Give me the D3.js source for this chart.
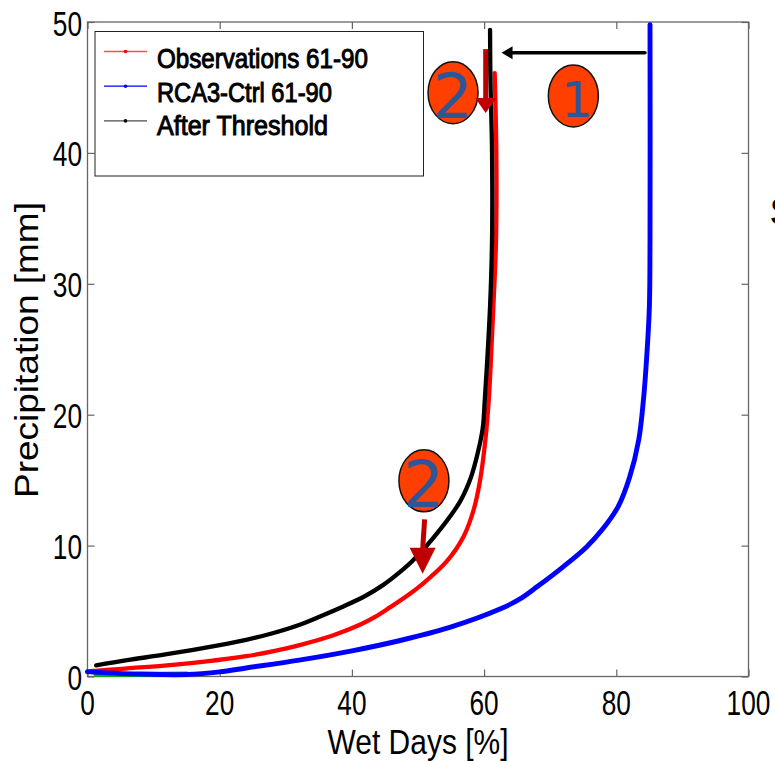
<!DOCTYPE html>
<html><head><meta charset="utf-8">
<style>html,body{margin:0;padding:0;background:#fff;overflow:hidden}svg{display:block}text{font-family:"Liberation Sans",Arial,sans-serif}</style>
<script src="https://cdn.jsdelivr.net/npm/d3@7"></script>
</head><body><svg id="c" width="775" height="761"></svg>
<script>
const xTicks=[0,20,40,60,80,100];
const yTicks=[0,10,20,30,40,50];
const xTitle="Wet Days [%]";
const yTitle="Precipitation [mm]";
const seriesNames=["Observations 61-90","RCA3-Ctrl 61-90","After Threshold"];
const seriesColors=["#ff0000","#0000ff","#000000"];
const obs=[[0,0.35],[0.8,0.42],[6,0.62],[12,0.85],[18,1.15],[24,1.55],[28,1.92],[32.1,2.4],[37.2,3.15],[41.2,3.95],[43.5,4.55],[45.8,5.3],[48.3,6.15],[50.8,7.12],[54.3,8.77],[56.9,10.7],[58.4,12.7],[59.4,15],[60.2,18.1],[60.7,21.1],[61.05,24.4],[61.4,28.25],[61.8,33.3],[61.85,40],[61.6,46.1]];
const ctrl=[[0,0.37],[3,0.28],[7,0.2],[15,0.15],[20,0.35],[24,0.65],[32,1.25],[40.2,1.98],[47.3,2.75],[54.8,3.75],[62.4,5.15],[65.5,5.95],[68,6.85],[72,8.4],[75.5,9.9],[78,11.3],[80.3,13],[82,15.2],[83.4,18.1],[84.1,21.1],[84.6,24.4],[85,28.2],[85.1,33.3],[85.1,49.8]];
const after=[[1.3,0.85],[6,1.25],[12,1.7],[20,2.4],[24,2.8],[28,3.3],[32.1,3.95],[35,4.55],[38.7,5.35],[42,6.15],[44.75,7],[47.2,7.95],[49.3,8.9],[53.3,11.2],[56.4,13.4],[58,15.2],[59.1,17.2],[59.8,19],[60.1,21.1],[60.5,24.4],[60.9,28.25],[61.2,33.3],[61.2,40],[60.95,46],[60.9,49.4]];
const trace=[[1.3,0.15],[8,0.15],[15,0.2]];
// annotations, in data units
const badges=[{t:"2",x:55.3,y:44.6,dx:0,dy:25,fs:63},{t:"1",x:73.5,y:44.35,dx:4,dy:21,fs:50},{t:"2",x:50.9,y:14.95,dx:0,dy:26,fs:64}];
const moveArrow={x1:84.34,x2:62.64,y:47.65};
const dropArrows=[{x1:60.24,y1:47.93,x2:60.24,y2:43.05,hw:10.5,hl:15},{x1:51.0,y1:12,x2:50.7,y2:7.85,hw:13,hl:26}];

const L=87.5,R=748.5,T=22,B=676.5;
const x=d3.scaleLinear().domain([0,100]).range([L,R]);
const y=d3.scaleLinear().domain([0,50]).range([B,T]);
const svg=d3.select("#c");
const AX="#666";
function tickAxis(axis,tx,ty){
  const g=svg.append("g").attr("transform",`translate(${tx},${ty})`).call(axis.tickSizeOuter(0).tickFormat(""));
  g.select(".domain").remove();
  g.selectAll("line").attr("stroke",AX).attr("stroke-width",1.2);
}
tickAxis(d3.axisBottom(x).tickValues(xTicks).tickSizeInner(-7),0,B);
tickAxis(d3.axisTop(x).tickValues(xTicks).tickSizeInner(-7),0,T);
tickAxis(d3.axisLeft(y).tickValues(yTicks).tickSizeInner(-7),L,0);
tickAxis(d3.axisRight(y).tickValues(yTicks).tickSizeInner(-7),R,0);
svg.append("rect").attr("x",L).attr("y",T).attr("width",R-L).attr("height",B-T).attr("fill","none").attr("stroke",AX).attr("stroke-width",1.3);

// text condensed to a target width through a transform, like the stretched original
function label(tx,ty,s,fs,len,anchor,rot){
  const t=svg.append("text").attr("font-size",fs).attr("fill","#000").attr("text-anchor",anchor||"start").text(s);
  const sx=len/t.node().getComputedTextLength();
  t.attr("transform",`translate(${tx},${ty})${rot?` rotate(${rot})`:""} scale(${sx},1)`);
  return t;
}
const w=d=>String(d).length*14.6;
xTicks.forEach(d=>label(x(d),B+38.5,String(d),36,w(d),"middle"));
yTicks.forEach(d=>label(L-5.5,y(d)+13.5,String(d),36,w(d),"end"));
label(418,754,xTitle,35,181,"middle");
label(38,350,yTitle,32.5,296,"middle",-90);

const line=d3.line().x(d=>x(d[0])).y(d=>y(d[1])).curve(d3.curveCatmullRom.alpha(0.5));
const plot=svg.append("g").attr("fill","none").attr("stroke-linecap","round").attr("stroke-linejoin","round");
plot.append("path").attr("d",line(trace)).attr("stroke","#00b000").attr("stroke-width",5);
plot.append("path").attr("d",line(obs)).attr("stroke",seriesColors[0]).attr("stroke-width",4.3);
plot.append("path").attr("d",line(after)).attr("stroke",seriesColors[2]).attr("stroke-width",4.3);
plot.append("path").attr("d",line(ctrl)).attr("stroke",seriesColors[1]).attr("stroke-width",4.9);

// legend
svg.append("rect").attr("x",95).attr("y",31.5).attr("width",328.5).attr("height",144.5).attr("fill","#fff").attr("stroke","#222").attr("stroke-width",1);
const lens=[211,175,171];
seriesNames.forEach((n,i)=>{
  const ly=51.5+i*34.7;
  svg.append("line").attr("x1",104).attr("x2",147).attr("y1",ly).attr("y2",ly).attr("stroke",seriesColors[i]).attr("stroke-width",1.3).attr("opacity",i==1?1:.7);
  svg.append("circle").attr("cx",125.5).attr("cy",ly).attr("r",1.8).attr("fill",seriesColors[i]);
  label(157,68+i*33.5,n,27,lens[i]).attr("stroke","#000").attr("stroke-width",1);
});

// badges
badges.forEach(b=>{
  svg.append("ellipse").attr("cx",x(b.x)).attr("cy",y(b.y)).attr("rx",25).attr("ry",31).attr("fill","#ff3f00").attr("stroke","#111").attr("stroke-width",1.5);
  svg.append("text").attr("x",x(b.x)+b.dx).attr("y",y(b.y)+b.dy).attr("text-anchor","middle").attr("font-size",b.fs).attr("fill","#2f5597").style("font-family","'DejaVu Sans'").text(b.t);
});
// arrows
svg.append("line").attr("x1",x(moveArrow.x1)).attr("x2",x(moveArrow.x2)+8).attr("y1",y(moveArrow.y)).attr("y2",y(moveArrow.y)).attr("stroke","#000").attr("stroke-width",3.5).attr("stroke-linecap","round");
{const tx=x(moveArrow.x2),ty=y(moveArrow.y);
 svg.append("path").attr("d",`M${tx},${ty}L${tx+11},${ty-6.5}L${tx+11},${ty+6.5}Z`).attr("fill","#000");}
dropArrows.forEach(a=>{
  const X1=x(a.x1),Y1=y(a.y1),X2=x(a.x2),Y2=y(a.y2);
  svg.append("line").attr("x1",X1).attr("y1",Y1).attr("x2",X2).attr("y2",Y2-a.hl+2).attr("stroke","#bf0000").attr("stroke-width",5);
  svg.append("path").attr("d",`M${X2},${Y2}L${X2-a.hw},${Y2-a.hl}L${X2+a.hw},${Y2-a.hl}Z`).attr("fill","#bf0000");
});
// fragment of a neighbouring panel's label, cut by the image edge
svg.append("text").attr("x",769.5).attr("y",225).attr("font-size",38).attr("fill","#000").text("S");
</script></body></html>
